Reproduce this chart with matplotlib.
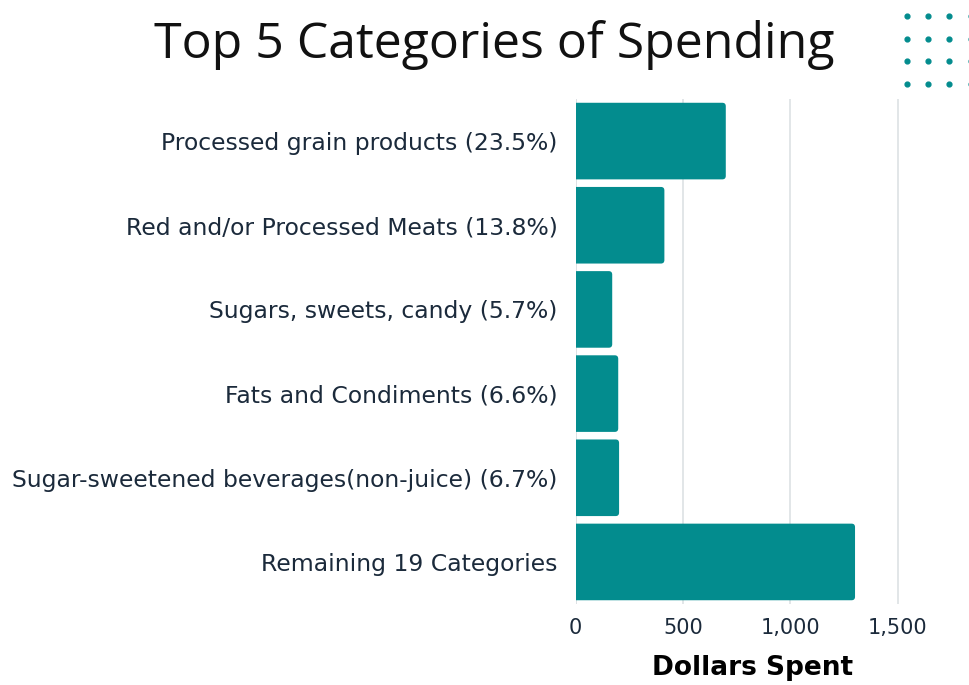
import matplotlib
matplotlib.use('Agg')
import matplotlib.pyplot as plt
import numpy as np
from matplotlib.patches import FancyBboxPatch
from matplotlib.ticker import FuncFormatter

categories = [
    "Processed grain products (23.5%)",
    "Red and/or Processed Meats (13.8%)",
    "Sugars, sweets, candy (5.7%)",
    "Fats and Condiments (6.6%)",
    "Sugar-sweetened beverages(non-juice) (6.7%)",
    "Remaining 19 Categories",
]
dollars = [700, 414, 171, 199, 203, 1302]
x_ticks = [0, 500, 1000, 1500]

teal = '#038c8e'
text_col = '#1b2a3b'
label_font = 'DejaVu Sans'

fig = plt.figure(figsize=(9.7, 6.85), dpi=100)
ax = fig.add_axes([0.5933, 0.1182, 0.3652, 0.7373])

# bars with rounded right end (left end hidden behind x=0 clip)
bar_h = 0.91
for i, v in enumerate(dollars):
    ax.add_patch(FancyBboxPatch((-30, i - bar_h / 2), v + 30, bar_h,
                                boxstyle="round,pad=0,rounding_size=16",
                                mutation_aspect=0.0026,
                                facecolor=teal, edgecolor='none', zorder=3))
ax.set_ylim(len(categories) - 0.5, -0.5)
ax.set_xlim(0, 1650)

y = np.arange(len(categories))
ax.set_yticks(y)
ax.set_yticklabels(categories, fontsize=16.9, color=text_col, family=label_font)
ax.set_xticks(x_ticks)
ax.xaxis.set_major_formatter(FuncFormatter(lambda v, p: f"{int(v):,}"))
for lab in ax.get_xticklabels():
    lab.set_fontsize(15)
    lab.set_color(text_col)
    lab.set_family(label_font)
ax.tick_params(axis='both', length=0)
ax.tick_params(axis='y', pad=13)
ax.tick_params(axis='x', pad=10)

for s in ax.spines.values():
    s.set_visible(False)
ax.grid(axis='x', color='#dde1e4', linewidth=1.2, zorder=0)
ax.axvline(0, color='#dde1e4', linewidth=1.2, zorder=1)

ax.set_xlabel("Dollars Spent", fontsize=19, fontweight='bold', color='black',
              family=label_font, labelpad=12)

fig.text(0.51, 0.935, "Top 5 Categories of Spending", ha='center', va='center',
         fontsize=36, color='#111111', family='Open Sans')

# decorative dot grid, top right
dots = fig.add_axes([0.925, 0.86, 0.075, 0.14])
gx, gy = np.meshgrid(np.arange(4), np.arange(4))
dots.scatter(gx.ravel(), gy.ravel(), s=12, color=teal)
dots.set_xlim(-0.444, 2.97)
dots.set_ylim(3.52, -0.705)
dots.axis('off')

plt.savefig('out.png', dpi=100)
plt.close()
